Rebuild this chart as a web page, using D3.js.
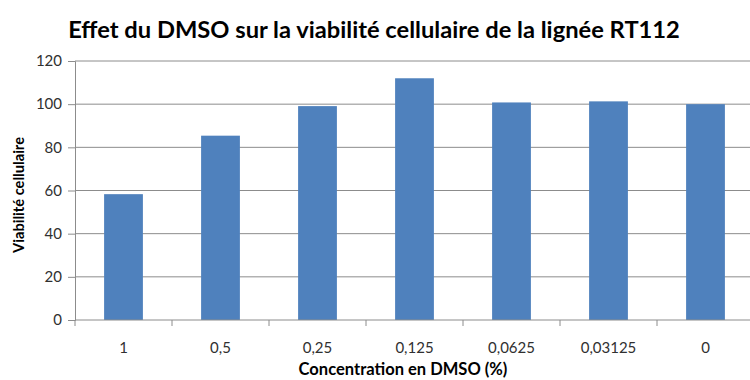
<!DOCTYPE html>
<html>
<head>
<meta charset="utf-8">
<script src="https://cdn.jsdelivr.net/npm/d3@7"></script>
<style>
  html, body { margin: 0; padding: 0; background: #fff; }
  svg { display: block; }
</style>
</head>
<body>
<svg id="chart" width="750" height="380"></svg>
<script>
// Concentrations (%) and measured cell viability
const categories = ["1", "0,5", "0,25", "0,125", "0,0625", "0,03125", "0"];
const viability = [58.3, 85.4, 99.1, 112.0, 100.8, 101.3, 100.0];
const yTicks = [0, 20, 40, 60, 80, 100, 120];

const title = "Effet du DMSO sur la viabilité cellulaire de la lignée RT112";
const yTitle = "Viabilité cellulaire";
const xTitle = "Concentration en DMSO (%)";

const W = 750, H = 380;
const margin = { left: 75, top: 61, bottom: 60 };
const plotRight = 754;
const baseY = 320;

const svg = d3.select("#chart");
const font = "Lato, 'Open Sans', sans-serif";

const x = d3.scaleBand()
  .domain(categories)
  .range([margin.left, plotRight])
  .paddingInner(0.6)
  .paddingOuter(0.3);

const y = d3.scaleLinear()
  .domain([0, 120])
  .range([baseY, margin.top]);

// horizontal gridlines
svg.append("g")
  .selectAll("line")
  .data(yTicks.filter(d => d > 0))
  .join("line")
  .attr("x1", margin.left).attr("x2", plotRight)
  .attr("y1", d => y(d)).attr("y2", d => y(d))
  .attr("stroke", "#8c8c8c").attr("stroke-width", 1);

// bars
svg.append("g")
  .selectAll("rect")
  .data(categories)
  .join("rect")
  .attr("x", d => x(d))
  .attr("width", x.bandwidth())
  .attr("y", (d, i) => y(viability[i]))
  .attr("height", (d, i) => baseY - y(viability[i]))
  .attr("fill", "#4f81bd");

// fit a text element to a target width by adjusting its font size
function fitWidth(sel, target) {
  const fs = parseFloat(sel.attr("font-size"));
  const w = sel.node().getComputedTextLength();
  if (w > 0) sel.attr("font-size", fs * target / w);
}

// y axis
const yAxis = svg.append("g")
  .attr("transform", `translate(${margin.left},0)`)
  .call(d3.axisLeft(y).tickValues(yTicks).tickSize(7).tickPadding(6));
yAxis.select(".domain").attr("stroke", "#8c8c8c");
yAxis.selectAll(".tick line").attr("stroke", "#8c8c8c");
yAxis.selectAll(".tick text")
  .attr("font-family", font).attr("font-size", 15).attr("fill", "#303030");

// x axis: ticks sit at the band boundaries
const step = x.step();
const x0 = margin.left;
const boundaries = d3.range(1, categories.length).map(i => x0 + i * step);
const xAxis = svg.append("g");
xAxis.append("line")
  .attr("x1", margin.left).attr("x2", plotRight)
  .attr("y1", baseY).attr("y2", baseY)
  .attr("stroke", "#8c8c8c");
xAxis.selectAll("line.tick")
  .data([x0, ...boundaries])
  .join("line")
  .attr("class", "tick")
  .attr("x1", d => d).attr("x2", d => d)
  .attr("y1", baseY).attr("y2", baseY + 6)
  .attr("stroke", "#8c8c8c");
xAxis.selectAll("text")
  .data(categories)
  .join("text")
  .attr("x", d => x(d) + x.bandwidth() / 2)
  .attr("y", 353)
  .attr("text-anchor", "middle")
  .attr("font-family", font).attr("font-size", 15).attr("fill", "#303030")
  .text(d => d);

// titles
const t = svg.append("text")
  .attr("x", 374).attr("y", 38)
  .attr("text-anchor", "middle")
  .attr("font-family", font).attr("font-weight", "bold")
  .attr("font-size", 20).attr("fill", "#000")
  .text(title);
fitWidth(t, 612);

const xt = svg.append("text")
  .attr("x", 403).attr("y", 375)
  .attr("text-anchor", "middle")
  .attr("font-family", font).attr("font-weight", "bold")
  .attr("font-size", 12).attr("fill", "#000")
  .text(xTitle);
fitWidth(xt, 209);

const yt = svg.append("text")
  .attr("transform", "translate(24,195) rotate(-90)")
  .attr("text-anchor", "middle")
  .attr("font-family", font).attr("font-weight", "bold")
  .attr("font-size", 12).attr("fill", "#000")
  .text(yTitle);
fitWidth(yt, 116);
</script>
</body>
</html>
